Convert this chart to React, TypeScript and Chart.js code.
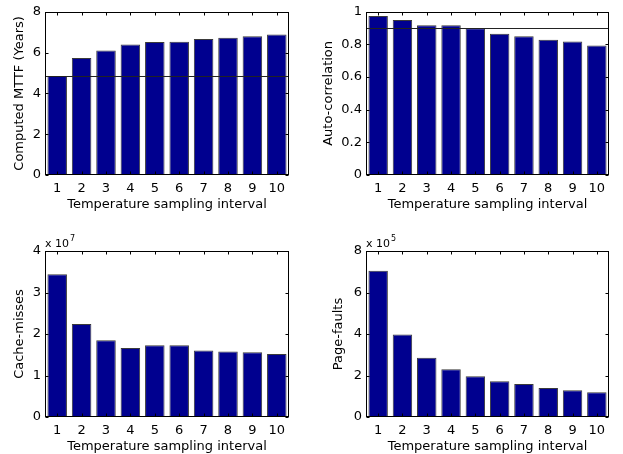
import React, { useEffect, useRef } from "react";
import { Chart, registerables } from "chart.js";

Chart.register(...registerables);

// ---------- data ----------
const categories = ["1", "2", "3", "4", "5", "6", "7", "8", "9", "10"];
const xAxisTitle = "Temperature sampling interval";

const mttfYears = [4.85, 5.74, 6.1, 6.4, 6.52, 6.53, 6.67, 6.73, 6.8, 6.89];
const mttfReference = 4.85;
const mttfTicks = [0, 2, 4, 6, 8];

const autoCorrelation = [0.974, 0.95, 0.917, 0.917, 0.899, 0.865, 0.85, 0.828, 0.818, 0.794];
const autoCorrelationReference = 0.9;
const autoCorrelationTicks = [0, 0.2, 0.4, 0.6, 0.8, 1];

const cacheMisses = [3.44e7, 2.24e7, 1.85e7, 1.66e7, 1.73e7, 1.73e7, 1.6e7, 1.58e7, 1.56e7, 1.52e7];
const cacheMissesExponent = 7;
const cacheMissesTicks = [0, 1e7, 2e7, 3e7, 4e7];

const pageFaults = [7.05e5, 3.97e5, 2.86e5, 2.3e5, 1.96e5, 1.72e5, 1.59e5, 1.4e5, 1.29e5, 1.19e5];
const pageFaultsExponent = 5;
const pageFaultsTicks = [0, 2e5, 4e5, 6e5, 8e5];

// ---------- styling ----------
const FONT_FAMILY = '"DejaVu Sans", Verdana, sans-serif';
const TICK_SIZE = 13;
const TITLE_SIZE = 13;
const BAR_COLOR = "#00008F";
const BAR_EDGE = "#3a3a3a";

Chart.defaults.font.family = FONT_FAMILY;
Chart.defaults.font.size = TICK_SIZE;
Chart.defaults.color = "#000";

const matlabBox = {
  id: "matlabBox",
  afterDatasetsDraw(chart: any, _args: any, opts: any) {
    const { ctx, chartArea: a, scales } = chart;
    ctx.save();
    if (opts.refValue !== undefined && opts.refValue !== null) {
      const py = Math.round(scales.y.getPixelForValue(opts.refValue)) + 0.5;
      ctx.strokeStyle = "#222";
      ctx.lineWidth = 1;
      ctx.beginPath();
      ctx.moveTo(a.left, py);
      ctx.lineTo(a.right, py);
      ctx.stroke();
    }
    ctx.strokeStyle = "#000";
    ctx.lineWidth = 1;
    const L = Math.round(a.left) + 0.5;
    const R = Math.round(a.right) - 0.5;
    const T = Math.round(a.top) + 0.5;
    const B = Math.round(a.bottom) - 0.5;
    ctx.strokeRect(L, T, R - L, B - T);
    const tl = 3;
    ctx.beginPath();
    scales.y.ticks.forEach((t: any) => {
      const py = Math.round(scales.y.getPixelForValue(t.value)) + 0.5;
      ctx.moveTo(L, py);
      ctx.lineTo(L + tl, py);
      ctx.moveTo(R, py);
      ctx.lineTo(R - tl, py);
    });
    for (let i = 0; i < chart.data.labels.length; i++) {
      const px = Math.round(scales.x.getPixelForValue(i)) + 0.5;
      ctx.moveTo(px, B);
      ctx.lineTo(px, B - tl);
      ctx.moveTo(px, T);
      ctx.lineTo(px, T + tl);
    }
    ctx.stroke();
    if (opts.exponent) {
      ctx.fillStyle = "#000";
      ctx.textBaseline = "alphabetic";
      ctx.textAlign = "left";
      ctx.font = `11px ${FONT_FAMILY}`;
      const base = "x 10";
      ctx.fillText(base, a.left, a.top - 4);
      const w = ctx.measureText(base).width;
      ctx.font = `8px ${FONT_FAMILY}`;
      ctx.fillText(String(opts.exponent), a.left + w + 1, a.top - 10);
    }
    ctx.restore();
  },
};

type PanelProps = {
  x: number;
  y: number;
  w: number;
  h: number;
  area: { left: number; right: number; top: number; bottom: number };
  values: number[];
  ticks: number[];
  scaleDiv: number;
  yTitle: string;
  yTitleCenter: number;
  refValue?: number;
  exponent?: number;
};

function Panel(p: PanelProps) {
  const ref = useRef<HTMLCanvasElement>(null);
  useEffect(() => {
    if (!ref.current) return;
    const halfLine = (TITLE_SIZE * 1.2) / 2;
    const xTitlePadBottom = p.h - p.area.bottom - 29.5 - halfLine;
    const yTitlePadTop = p.yTitleCenter - halfLine;
    const chart = new Chart(ref.current, {
      type: "bar",
      data: {
        labels: categories,
        datasets: [
          {
            data: p.values,
            backgroundColor: BAR_COLOR,
            borderColor: BAR_EDGE,
            borderWidth: 1,
            categoryPercentage: 1,
            barPercentage: 0.8,
          },
        ],
      },
      plugins: [matlabBox as any],
      options: {
        responsive: false,
        animation: false,
        layout: {
          padding: { left: 0, right: p.w - p.area.right, top: p.area.top, bottom: 0 },
        },
        plugins: {
          legend: { display: false },
          tooltip: { enabled: false },
          matlabBox: { refValue: p.refValue, exponent: p.exponent },
        } as any,
        scales: {
          x: {
            grid: { display: false, drawTicks: false },
            border: { display: false },
            ticks: { padding: 6, color: "#000", maxRotation: 0, autoSkip: false },
            title: {
              display: true,
              text: xAxisTitle,
              color: "#000",
              font: { size: TITLE_SIZE },
              padding: { top: 0, bottom: xTitlePadBottom },
            },
            afterFit: (s: any) => {
              s.height = p.h - p.area.bottom;
            },
          },
          y: {
            min: p.ticks[0],
            max: p.ticks[p.ticks.length - 1],
            grid: { display: false, drawTicks: false },
            border: { display: false },
            ticks: {
              padding: 4,
              color: "#000",
              callback: (v: any) => String(Number(v) / p.scaleDiv),
            },
            afterBuildTicks: (s: any) => {
              s.ticks = p.ticks.map((v) => ({ value: v }));
            },
            title: {
              display: true,
              text: p.yTitle,
              color: "#000",
              font: { size: TITLE_SIZE },
              padding: { top: yTitlePadTop, bottom: 0 },
            },
            afterFit: (s: any) => {
              s.width = p.area.left;
            },
          },
        },
      } as any,
    });
    return () => chart.destroy();
  }, []);
  return (
    <canvas
      ref={ref}
      width={p.w}
      height={p.h}
      style={{ position: "absolute", left: p.x, top: p.y, width: p.w, height: p.h }}
    />
  );
}

export default function App() {
  return (
    <div style={{ position: "absolute", left: 0, top: 0, width: 623, height: 454, background: "#fff" }}>
      <Panel
        x={0}
        y={0}
        w={311}
        h={227}
        area={{ left: 45, right: 289, top: 10, bottom: 175 }}
        values={mttfYears}
        ticks={mttfTicks}
        scaleDiv={1}
        yTitle="Computed MTTF (Years)"
        yTitleCenter={20}
        refValue={mttfReference}
      />
      <Panel
        x={311}
        y={0}
        w={312}
        h={227}
        area={{ left: 55, right: 298, top: 10, bottom: 175 }}
        values={autoCorrelation}
        ticks={autoCorrelationTicks}
        scaleDiv={1}
        yTitle="Auto-correlation"
        yTitleCenter={18}
        refValue={autoCorrelationReference}
      />
      <Panel
        x={0}
        y={227}
        w={311}
        h={227}
        area={{ left: 45, right: 289, top: 24, bottom: 190 }}
        values={cacheMisses}
        ticks={cacheMissesTicks}
        scaleDiv={1e7}
        yTitle="Cache-misses"
        yTitleCenter={20}
        exponent={cacheMissesExponent}
      />
      <Panel
        x={311}
        y={227}
        w={312}
        h={227}
        area={{ left: 55, right: 298, top: 24, bottom: 190 }}
        values={pageFaults}
        ticks={pageFaultsTicks}
        scaleDiv={1e5}
        yTitle="Page-faults"
        yTitleCenter={28}
        exponent={pageFaultsExponent}
      />
    </div>
  );
}
